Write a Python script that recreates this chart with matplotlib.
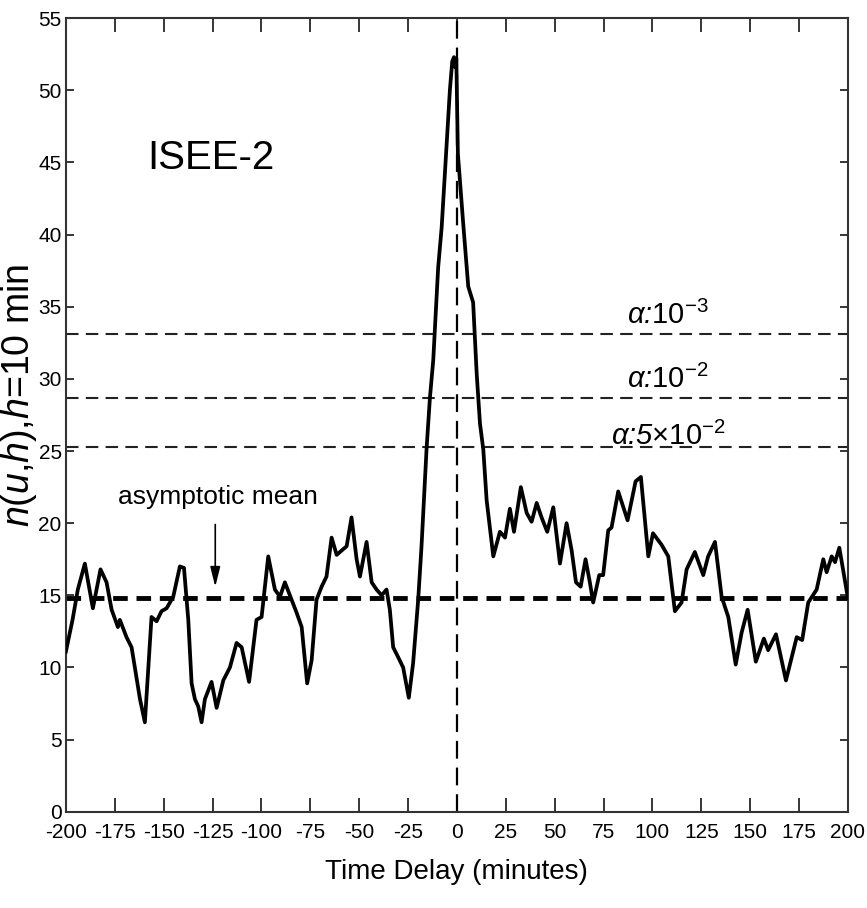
import numpy as np
import matplotlib
matplotlib.use('Agg')
import matplotlib.pyplot as plt
from matplotlib import font_manager

# data
delay = [-200, -196.6, -193.9, -190.3, -186.2, -182.3, -179.2, -176.6, -173.4, -172.4,
         -169, -166.4, -162.1, -159.6, -156.2, -153.6, -151.1, -148.5, -145.1, -141.7,
         -139.6, -137.4, -135.7, -134, -132.3, -130.6, -128.9, -125.5, -122.9, -119.5,
         -116.1, -112.7, -110.1, -106.3, -102.5, -99.9, -96.5, -93.1, -90.5, -88,
         -84.6, -82, -79.4, -76.6, -74.3, -71.8, -69.2, -66.7, -64.1, -61.5,
         -59, -56.4, -53.9, -51.3, -49.6, -46.2, -43.6, -41.1, -38.5, -36,
         -34.3, -32.6, -30, -27.5, -24.6, -22.4, -19.8, -18.1, -15.5, -13.8,
         -12.1, -9.6, -7.8, -6.1, -3.6, -2.4, -1.5, -0.8, -0.3, 0.5,
         3.2, 5.8, 8.3, 10.1, 11.8, 13.5, 15.2, 18.6, 22, 24.6,
         27.1, 29.2, 32.7, 35.7, 38.2, 40.8, 43.3, 46.2, 49.3, 52.7,
         56.1, 58.7, 60.9, 63.3, 65.8, 68, 69.7, 72.8, 74.8, 77.4,
         79.1, 82.5, 87.3, 91.4, 94.1, 97.9, 100.3, 104.7, 108.1, 111.5,
         114.9, 117.5, 121.7, 126, 128.5, 132, 135.4, 138.8, 142.6, 145.6,
         148.7, 152.9, 157, 159.2, 163.2, 168.3, 173.8, 176.6, 179.7, 184,
         187.4, 189.1, 191.7, 193.4, 195.6, 200]
n_val = [11.1, 13.3, 15.4, 17.2, 14.1, 16.8, 15.9, 14.0, 12.8, 13.3,
         12.1, 11.4, 7.8, 6.2, 13.5, 13.2, 13.9, 14.1, 14.9, 17.0,
         16.9, 13.3, 8.9, 7.8, 7.3, 6.2, 7.8, 9.0, 7.2, 9.1,
         10.0, 11.7, 11.4, 9.0, 13.3, 13.5, 17.7, 15.4, 14.9, 15.9,
         14.7, 13.8, 12.8, 8.9, 10.5, 14.7, 15.6, 16.3, 19.0, 17.8,
         18.1, 18.4, 20.4, 17.5, 16.3, 18.7, 15.9, 15.4, 15.0, 15.4,
         14.0, 11.4, 10.7, 10.0, 7.9, 10.3, 14.7, 18.4, 25.2, 28.7,
         31.3, 37.7, 40.5, 44.3, 50.0, 52.0, 52.3, 51.6, 52.2, 45.6,
         40.8, 36.4, 35.3, 30.4, 26.9, 25.1, 21.6, 17.7, 19.4, 19.0,
         21.0, 19.4, 22.5, 20.7, 20.1, 21.4, 20.4, 19.4, 21.1, 17.2,
         20.0, 18.1, 15.9, 15.6, 17.5, 15.9, 14.5, 16.4, 16.4, 19.5,
         19.7, 22.2, 20.2, 22.9, 23.2, 17.7, 19.3, 18.5, 17.7, 13.9,
         14.5, 16.8, 18.0, 16.4, 17.7, 18.7, 14.9, 13.5, 10.2, 12.4,
         14.0, 10.4, 12.0, 11.2, 12.3, 9.1, 12.1, 11.9, 14.5, 15.4,
         17.5, 16.6, 17.7, 17.3, 18.3, 14.8]

asym_mean = 14.8
thresholds = [33.1, 28.7, 25.3]
thr_labels = [r'$\alpha$:$10^{-3}$', r'$\alpha$:$10^{-2}$', r'$\alpha$:5$\times$$10^{-2}$']
thr_label_y = [33.8, 29.4, 25.4]
x_ticks = np.arange(-200, 201, 25)
y_ticks = np.arange(0, 56, 5)

names = {f.name for f in font_manager.fontManager.ttflist}
fam = 'Liberation Sans Narrow' if 'Liberation Sans Narrow' in names else 'Liberation Sans'
plt.rcParams['font.family'] = [fam, 'DejaVu Sans']
plt.rcParams['mathtext.fontset'] = 'custom'
plt.rcParams['mathtext.rm'] = 'Liberation Sans'
plt.rcParams['mathtext.it'] = 'Liberation Sans:italic'
plt.rcParams['mathtext.default'] = 'it'
plt.rcParams['axes.unicode_minus'] = False

fig = plt.figure(figsize=(8.67, 9.08), dpi=100)
ax = fig.add_axes([0.076, 0.106, 0.902, 0.874])

ax.plot(delay, n_val, color='black', lw=2.7, zorder=3)
ax.axhline(asym_mean, color='black', lw=3.5, dashes=(3, 1.8), zorder=2)
for t in thresholds:
    ax.axhline(t, color='#222222', lw=1.5, dashes=(6, 3.5), zorder=2)
ax.axvline(0, color='black', lw=1.6, dashes=(8, 4), zorder=2)

ax.text(-126, 45.3, 'ISEE-2', fontsize=29, ha='center', va='center')
for lab, ly in zip(thr_labels, thr_label_y):
    ax.text(108, ly, lab, fontsize=21, ha='center', va='baseline', style='italic')
ax.annotate('', xy=(-123.6, 15.4), xytext=(-123.6, 20.1),
            arrowprops=dict(arrowstyle='-|>,head_width=0.3,head_length=1.2',
                            color='black', lw=1.2))
ax.text(-122, 21.3, 'asymptotic mean', fontsize=19, ha='center', va='baseline')

ax.set_xlim(-200, 200)
ax.set_ylim(0, 55)
ax.set_xticks(x_ticks)
ax.set_yticks(y_ticks)
ax.tick_params(axis='both', direction='in', top=True, right=True, labelsize=15, width=1.1)
ax.tick_params(axis='x', length=10, pad=8)
ax.tick_params(axis='y', length=6, pad=3)
for s in ax.spines.values():
    s.set_linewidth(1.5)
    s.set_color('#333333')

ax.set_xlabel('Time Delay (minutes)', fontsize=20, labelpad=12)
ax.set_ylabel(r'$n$($u$,$h$),$h$=10 min', fontsize=27, family='Liberation Sans')
ax.yaxis.set_label_coords(-0.034, 0.525)

fig.savefig('out.png', dpi=100)
